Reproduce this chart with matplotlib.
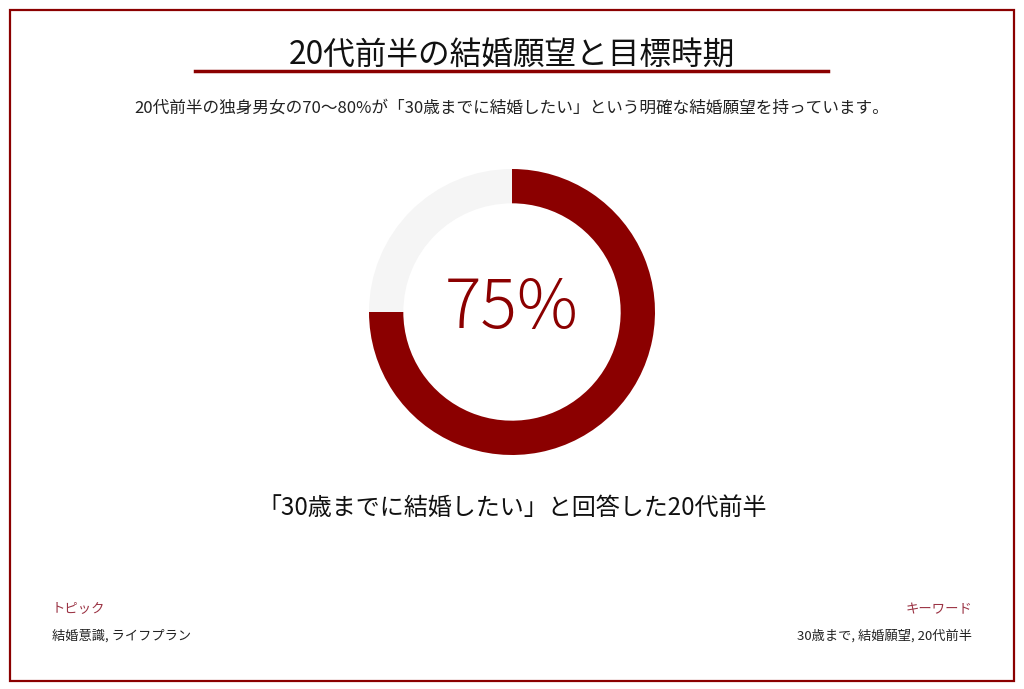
import matplotlib.pyplot as plt
from matplotlib.patches import Rectangle

plt.rcParams['font.family'] = ['Noto Sans CJK JP', 'DejaVu Sans']

title = '20代前半の結婚願望と目標時期'
subtitle = '20代前半の独身男女の70〜80%が「30歳までに結婚したい」という明確な結婚願望を持っています。'
caption = '「30歳までに結婚したい」と回答した20代前半'
labels = ['結婚したい', 'その他']
values = [75, 25]
colors = ['#8B0000', '#F5F5F5']
topic_label = 'トピック'
topic_text = '結婚意識, ライフプラン'
kw_label = 'キーワード'
kw_text = '30歳まで, 結婚願望, 20代前半'

W, H = 1024, 689
fig = plt.figure(figsize=(W / 100, H / 100), dpi=100)
fig.patch.set_facecolor('white')

def fx(px):
    return px / W

def fy(py):
    return 1 - py / H

# outer border
fig.patches.append(Rectangle((fx(10), fy(681)), fx(1004), 671 / H,
                             transform=fig.transFigure, fill=False,
                             edgecolor='#8B0000', linewidth=1.6))

# title + underline
fig.text(0.5, fy(55), title, ha='center', va='center', fontsize=22.8, color='#111111')
fig.add_artist(plt.Line2D([fx(195), fx(828)], [fy(71), fy(71)],
                          transform=fig.transFigure, color='#8B0000', linewidth=2.5))
fig.text(0.5, fy(108), subtitle, ha='center', va='center', fontsize=12, color='#222222')

# donut
size = 286
ax = fig.add_axes([fx(512 - size / 2), fy(312 + size / 2), size / W, size / H])
ax.pie(values, colors=colors, startangle=90, counterclock=False,
       wedgeprops=dict(width=0.24, edgecolor='none'), radius=1)
ax.set_xlim(-1, 1)
ax.set_ylim(-1, 1)
ax.set_aspect('equal')
ax.axis('off')
ax.text(0, 0.02, f'{values[0]}%', ha='center', va='center', fontsize=49,
        color='#8B0000', fontweight='light')

fig.text(0.5, fy(508), caption, ha='center', va='center', fontsize=17.3, color='#111111')

# footer
fig.text(fx(52), fy(609), topic_label, ha='left', va='center', fontsize=9.6, color='#9B3344')
fig.text(fx(52), fy(636), topic_text, ha='left', va='center', fontsize=9.5, color='#222222')
fig.text(fx(972), fy(609), kw_label, ha='right', va='center', fontsize=9.6, color='#9B3344')
fig.text(fx(972), fy(636), kw_text, ha='right', va='center', fontsize=9.5, color='#222222')

fig.savefig('out.png', dpi=100, facecolor='white')
